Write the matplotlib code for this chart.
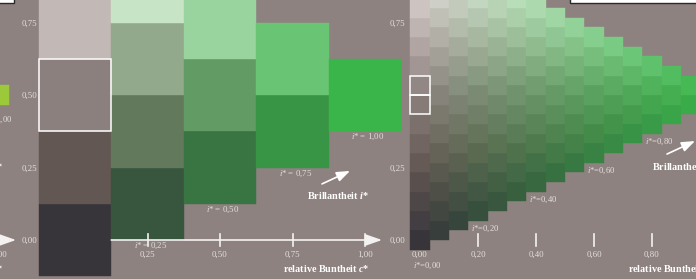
import numpy as np
import matplotlib.pyplot as plt
from matplotlib.patches import Rectangle

plt.rcParams['font.family'] = ['Liberation Serif', 'DejaVu Serif']
plt.rcParams['mathtext.fontset'] = 'custom'
plt.rcParams['mathtext.rm'] = 'Liberation Serif'
plt.rcParams['mathtext.it'] = 'Liberation Serif:italic'
plt.rcParams['mathtext.bf'] = 'Liberation Serif:bold'
plt.rcParams['mathtext.bfit'] = 'Liberation Serif:italic:bold'

W, H = 696, 279
UNIT = 290      # pixels per unit of c* / t*
ZERO_Y = 240    # pixel row of t* = 0
BG = '#8d827f'
TXT = '#e4e0de'

# achromatic ramp (lightness -> rgb) and hue colours
gray_levels = [0.0, 0.25, 0.5, 0.75, 1.0]
gray_rgb = [(55, 53, 58), (98, 87, 83), (139, 128, 125), (194, 184, 181), (248, 243, 241)]
green = (57, 181, 74)
yellow_green = (155, 201, 58)

# left panel: 4 steps
left_chroma = [0.0, 0.25, 0.5, 0.75, 1.0]
left_brilliance = [[0.0, 0.25, 0.5, 0.75, 1.0],
                   [0.125, 0.375, 0.625, 0.875],
                   [0.25, 0.5, 0.75],
                   [0.375, 0.625],
                   [0.5]]
left_xticks = [0.25, 0.5, 0.75, 1.0]
left_xlabels = ['0,25', '0,50', '0,75', '1,00']
left_yticks = [0.0, 0.25, 0.5, 0.75]
left_ylabels = ['0,00', '0,25', '0,50', '0,75']
left_ilabels = ['$i$* = 0,25', '$i$* = 0,50', '$i$* = 0,75', '$i$* = 1,00']

# right panel (and the cut-off panel before it): 15 steps
grid_steps = 15
right_xticks = [0.0, 0.2, 0.4, 0.6, 0.8, 1.0]
right_xlabels = ['0,00', '0,20', '0,40', '0,60', '0,80', '1,00']
right_yticks = [0.0, 0.25, 0.75]
right_ylabels = ['0,00', '0,25', '0,75']
right_icols = [0, 3, 6, 9, 12, 15]
right_ilabels = ['$i$*=0,00', '$i$*=0,20', '$i$*=0,40', '$i$*=0,60', '$i$*=0,80', '$i$*=1,00']

# fragments of caption boxes at the top edge (px: x, y, w, h)
top_boxes = [(-2, -2, 16, 5), (570, -2, 140, 5)]


def px(p):
    return p / UNIT


def mix(c, t, hue):
    if c >= 1:
        rgb = np.array(hue, float)
    else:
        tp = (t - c / 2) / (1 - c)
        g = np.array([np.interp(tp, gray_levels, ch) for ch in zip(*gray_rgb)])
        rgb = c * np.array(hue, float) + (1 - c) * g
    return tuple(np.clip(rgb / 255, 0, 1))


def panel_axes(fig, zero_x):
    ax = fig.add_axes([0, 0, 1, 1])
    ax.set_xlim(-zero_x / UNIT, (W - zero_x) / UNIT)
    ax.set_ylim((ZERO_Y - H) / UNIT, ZERO_Y / UNIT)
    ax.axis('off')
    ax.patch.set_alpha(0)
    return ax


def visible(ax, x, reach=0.12):
    lo, hi = ax.get_xlim()
    return lo - reach < x < hi + reach


def label(ax, x, y, s, reach=0.12, **kw):
    if visible(ax, x, reach):
        ax.text(x, y, s, **kw)


def cell(ax, c, t, size, color):
    ax.add_patch(Rectangle((c - size / 2, t - size / 2), size, size,
                           facecolor=color, edgecolor=color, lw=0.3))


def outline(ax, c, t, size):
    ax.add_patch(Rectangle((c - size / 2, t - size / 2), size, size,
                           fill=False, edgecolor='white', lw=1.1, zorder=5))


def axis_arrow(ax, start, ticks, labels):
    ax.annotate('', xy=(1 + px(17), 0), xytext=(start, 0),
                arrowprops=dict(arrowstyle='-|>,head_length=1.0,head_width=0.35',
                                color='#f4f2f1', lw=1.2, shrinkA=0, shrinkB=0))
    for x in ticks:
        if x > start:
            ax.plot([x, x], [-px(6), px(6)], color='#f4f2f1', lw=1.2)
    for x, lab in zip(ticks, labels):
        label(ax, x, -px(15), lab, reach=0.06, color=TXT, fontsize=6.3, ha='center', va='center')
    ax.text(1 - px(82), -px(28), 'relative Buntheit $\\mathbfit{c}$*', color='white',
            fontsize=7.3, fontweight='bold', ha='left', va='center')


def brilliance(ax, t0):
    ax.text(0.8, t0, 'Brillantheit $\\mathbfit{i}$*', color='white',
            fontsize=7.3, fontweight='bold', ha='left', va='center')
    ax.annotate('', xy=(0.8 + px(43), t0 + px(25)), xytext=(0.8 + px(15), t0 + px(12)),
                arrowprops=dict(arrowstyle='-|>,head_length=0.8,head_width=0.3',
                                color='white', lw=1.2, shrinkA=0, shrinkB=0))


def grid_panel(ax, hue, boxed=False):
    s = 1 / grid_steps
    for k in range(grid_steps + 1):
        c = k * s
        for j in range(grid_steps - k + 1):
            t = c / 2 + j * s
            cell(ax, c, t, s, mix(c, t, hue))
    if boxed:
        outline(ax, 0, 7 * s, s)
        outline(ax, 0, 8 * s, s)
    axis_arrow(ax, 1.5 * s, right_xticks, right_xlabels)
    for k, lab in zip(right_icols, right_ilabels):
        c = k * s
        bottom = c / 2 - s / 2
        if k == 0:
            x, y = c + px(7), -px(26)
        elif k == grid_steps:
            x, y = c - px(1), bottom - px(15)
        else:
            x, y = c + px(7), bottom - px(8)
        label(ax, x, y, lab, reach=0.1, color=TXT, fontsize=6.2, ha='center', va='center')
    brilliance(ax, 0.255)


fig = plt.figure(figsize=(W / 100, H / 100), dpi=100, facecolor=BG)

# cut-off panel on the far left (yellow-green hue)
ax_prev = panel_axes(fig, -291)
grid_panel(ax_prev, yellow_green)

# right panel: 15-step green grid
ax_right = panel_axes(fig, 420)
grid_panel(ax_right, green, boxed=True)
for y, lab in zip(right_yticks, right_ylabels):
    ax_right.text(-px(15), y, lab, color=TXT, fontsize=6.3, ha='right', va='center_baseline')

# left panel: 4-step green blocks
ax_left = panel_axes(fig, 75)
for c, levels in zip(left_chroma, left_brilliance):
    for t in levels:
        cell(ax_left, c, t, 0.25, mix(c, t, green))
outline(ax_left, 0.0, 0.5, 0.25)
axis_arrow(ax_left, 0.125, left_xticks, left_xlabels)
for c, lab in zip(left_chroma[1:], left_ilabels):
    bottom = c / 2 - 0.125
    ax_left.text(c + px(3), bottom - px(6), lab, color=TXT, fontsize=6.3,
                 ha='center', va='center')
for y, lab in zip(left_yticks, left_ylabels):
    ax_left.text(-px(38), y, lab, color=TXT, fontsize=6.3, ha='right', va='center_baseline')
brilliance(ax_left, 0.152)

for x, y, w, h in top_boxes:
    fig.add_artist(Rectangle((x / W, 1 - (y + h) / H), w / W, h / H, transform=fig.transFigure,
                             facecolor='white', edgecolor='#2a2a2a', lw=1.0))

fig.savefig('out.png', dpi=100, facecolor=BG)
